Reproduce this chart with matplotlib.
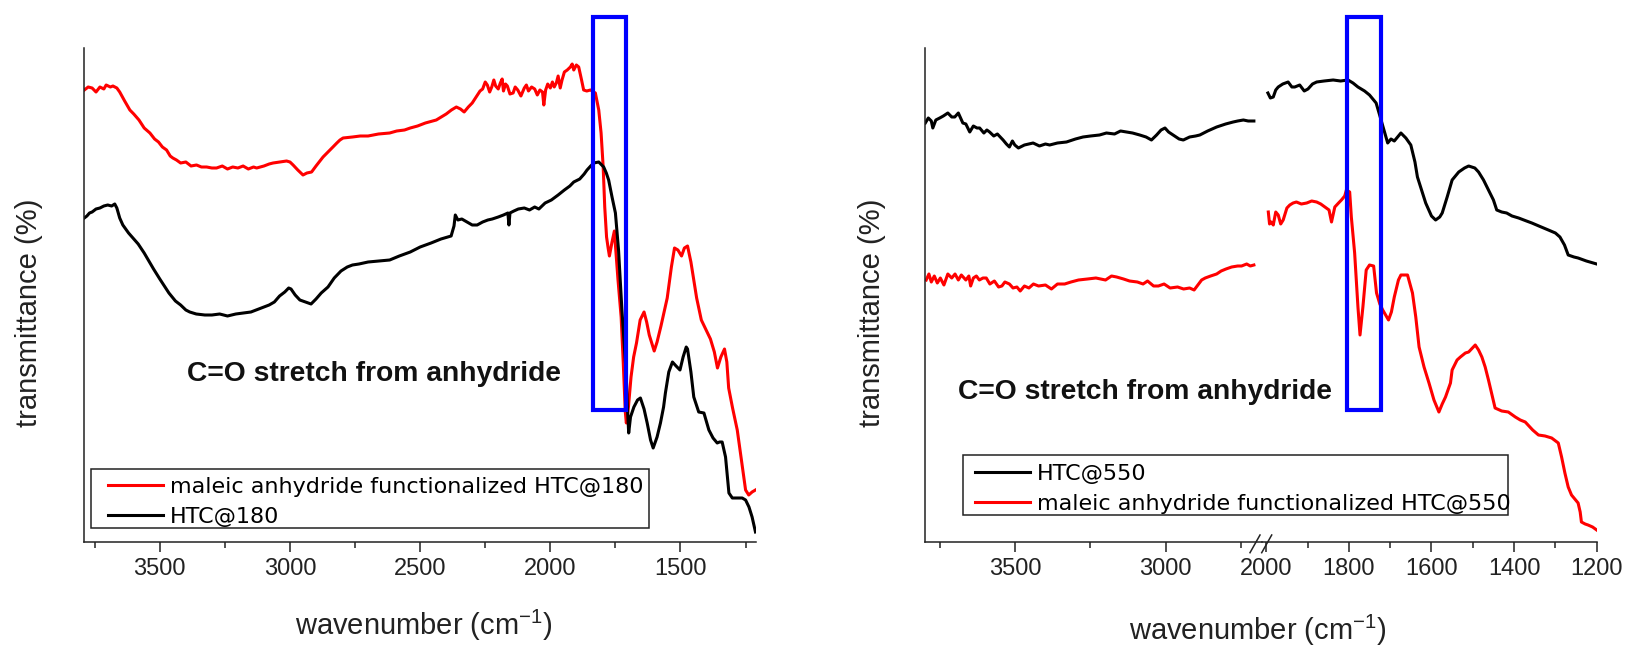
import matplotlib
matplotlib.use("Agg")
import matplotlib.pyplot as plt
from matplotlib.lines import Line2D
from matplotlib.patches import Rectangle

plt.rcParams['font.family'] = ['Liberation Sans', 'DejaVu Sans']
plt.rcParams['mathtext.default'] = 'regular'

# ---- data (wavenumber, transmittance in arbitrary units) ----
# left panel: HTC@180
wn_red180 = [3790, 3775, 3760, 3745, 3730, 3715, 3706, 3690, 3680, 3665, 3654, 3635, 3615, 3600,
             3580, 3560, 3538, 3520, 3505, 3490, 3474, 3460, 3450, 3436, 3420, 3400, 3380, 3359,
             3340, 3320, 3300, 3282, 3260, 3240, 3220, 3200, 3180, 3160, 3140, 3128, 3100, 3080,
             3065, 3040, 3013, 3000, 2988, 2970, 2950, 2935, 2917, 2900, 2873, 2850, 2835, 2820,
             2808, 2796, 2760, 2730, 2700, 2660, 2617, 2590, 2560, 2538, 2510, 2480, 2438, 2400,
             2380, 2361, 2345, 2331, 2315, 2300, 2280, 2270, 2260, 2250, 2242, 2233, 2225, 2217,
             2210, 2200, 2192, 2185, 2180, 2172, 2165, 2155, 2143, 2135, 2125, 2113, 2100, 2092,
             2084, 2072, 2060, 2050, 2040, 2030, 2025, 2018, 2010, 2000, 1992, 1985, 1977, 1970,
             1962, 1955, 1946, 1935, 1923, 1916, 1910, 1900, 1891, 1880, 1872, 1860, 1846, 1827,
             1814, 1805, 1797, 1791, 1784, 1778, 1773, 1763, 1754, 1740, 1728, 1720, 1712, 1708,
             1700, 1690, 1680, 1669, 1655, 1640, 1630, 1620, 1601, 1590, 1575, 1551, 1535, 1523,
             1510, 1496, 1485, 1473, 1460, 1438, 1420, 1400, 1385, 1370, 1358, 1345, 1331, 1322,
             1315, 1300, 1282, 1265, 1250, 1238, 1225, 1212]
t_red180 = [452, 455, 454, 450, 455, 453, 457, 455, 456, 454, 450, 441, 432, 428,
            422, 414, 409, 403, 400, 395, 392, 386, 384, 382, 379, 380, 376, 377,
            375, 375, 374, 374, 376, 373, 375, 374, 376, 373, 375, 374, 376, 378,
            379, 380, 381, 380, 377, 372, 367, 369, 370, 376, 385, 391, 395, 399,
            402, 404, 405, 406, 406, 408, 409, 411, 412, 414, 416, 419, 422, 428,
            432, 435, 433, 430, 435, 439, 447, 451, 453, 460, 457, 450, 455, 462,
            456, 453, 459, 463, 451, 458, 456, 448, 449, 455, 452, 446, 454, 457,
            451, 455, 453, 447, 452, 450, 437, 452, 458, 454, 460, 455, 459, 466,
            454, 462, 470, 472, 475, 478, 472, 477, 475, 462, 452, 451, 452, 449,
            432, 409, 375, 335, 305, 294, 286, 300, 311, 262, 225, 180, 130, 119,
            135, 165, 185, 199, 222, 230, 220, 207, 191, 200, 216, 244, 275, 294,
            292, 286, 294, 296, 280, 244, 222, 211, 203, 190, 174, 185, 193, 180,
            154, 134, 112, 80, 52, 47, 50, 52]

wn_blk180 = [3790, 3780, 3770, 3760, 3745, 3730, 3715, 3700, 3685, 3673, 3665, 3654, 3642, 3620,
             3600, 3583, 3560, 3540, 3524, 3500, 3480, 3465, 3440, 3420, 3400, 3385, 3360, 3327,
             3300, 3270, 3240, 3208, 3180, 3150, 3110, 3080, 3060, 3040, 3020, 3005, 2996, 2980,
             2962, 2940, 2919, 2900, 2880, 2854, 2830, 2804, 2780, 2760, 2735, 2700, 2660, 2617,
             2580, 2538, 2500, 2458, 2420, 2381, 2370, 2365, 2355, 2340, 2320, 2300, 2281, 2260,
             2240, 2223, 2200, 2180, 2163, 2159, 2155, 2140, 2123, 2100, 2080, 2060, 2044, 2020,
             1996, 1970, 1946, 1925, 1910, 1887, 1870, 1859, 1845, 1833, 1814, 1795, 1785, 1776,
             1763, 1750, 1738, 1725, 1709, 1703, 1699, 1692, 1679, 1665, 1654, 1640, 1628, 1615,
             1605, 1590, 1577, 1565, 1558, 1545, 1531, 1517, 1502, 1490, 1478, 1473, 1460, 1449,
             1430, 1410, 1391, 1375, 1359, 1350, 1340, 1327, 1314, 1301, 1280, 1263, 1250, 1237,
             1225, 1212]
t_blk180 = [324, 326, 329, 330, 333, 334, 336, 337, 336, 338, 334, 324, 317, 309,
            303, 298, 289, 280, 273, 263, 255, 249, 241, 237, 232, 230, 228, 227,
            227, 228, 226, 228, 229, 230, 234, 237, 240, 246, 250, 254, 253, 247,
            242, 240, 238, 243, 249, 255, 264, 271, 275, 277, 278, 280, 281, 282,
            286, 290, 295, 299, 303, 306, 316, 327, 322, 323, 320, 317, 317, 320,
            322, 323, 325, 327, 329, 317, 329, 331, 333, 334, 332, 335, 333, 339,
            342, 347, 352, 356, 360, 363, 368, 372, 376, 379, 380, 375, 369, 362,
            345, 329, 292, 232, 170, 130, 109, 125, 135, 142, 144, 133, 119, 102,
            94, 105, 119, 135, 149, 170, 180, 176, 172, 185, 195, 193, 170, 145,
            130, 129, 112, 104, 99, 100, 100, 85, 49, 44, 44, 44, 42, 35,
            25, 10]

# right panel: HTC@550, split at the axis break
wn_blk550_a = [3800, 3790, 3780, 3775, 3765, 3752, 3740, 3725, 3712, 3702, 3690, 3675, 3665, 3652,
               3640, 3628, 3619, 3605, 3595, 3586, 3572, 3560, 3541, 3530, 3520, 3510, 3502, 3490,
               3470, 3441, 3420, 3400, 3386, 3360, 3330, 3300, 3275, 3250, 3220, 3197, 3170, 3150,
               3130, 3110, 3086, 3065, 3047, 3030, 3015, 3002, 2990, 2975, 2955, 2941, 2920, 2900,
               2886, 2860, 2830, 2800, 2775, 2760, 2741, 2725, 2706]
t_blk550_a = [419, 424, 421, 414, 422, 424, 426, 429, 425, 425, 429, 419, 418, 410,
              416, 414, 414, 409, 412, 410, 406, 408, 402, 398, 395, 401, 397, 394,
              397, 399, 396, 398, 397, 399, 400, 403, 405, 406, 407, 409, 408, 411,
              410, 409, 407, 405, 402, 407, 412, 414, 410, 407, 403, 402, 405, 406,
              407, 411, 415, 418, 420, 421, 422, 421, 421]
wn_blk550_b = [1996, 1990, 1983, 1977, 1971, 1960, 1947, 1938, 1931, 1919, 1908, 1899, 1888, 1878,
               1860, 1838, 1820, 1802, 1790, 1778, 1762, 1750, 1734, 1722, 1706, 1698, 1690, 1674,
               1662, 1650, 1640, 1634, 1624, 1614, 1600, 1590, 1580, 1574, 1562, 1550, 1534, 1520,
               1510, 1495, 1486, 1474, 1462, 1450, 1442, 1430, 1418, 1405, 1389, 1370, 1357, 1340,
               1317, 1300, 1289, 1278, 1269, 1255, 1245, 1225, 1200]
t_blk550_b = [449, 444, 445, 452, 455, 458, 460, 455, 455, 457, 451, 453, 458, 460,
              461, 462, 461, 462, 459, 455, 451, 447, 439, 422, 399, 403, 401, 409,
              404, 397, 380, 365, 352, 339, 326, 322, 325, 329, 345, 362, 370, 374,
              376, 374, 370, 362, 352, 342, 332, 330, 329, 326, 324, 321, 319, 316,
              312, 309, 305, 297, 287, 285, 284, 281, 278]

wn_red550_a = [3797, 3788, 3780, 3770, 3760, 3750, 3738, 3725, 3712, 3701, 3690, 3680, 3665, 3655,
               3649, 3640, 3630, 3620, 3608, 3597, 3585, 3570, 3556, 3545, 3535, 3520, 3508, 3495,
               3484, 3470, 3455, 3440, 3423, 3400, 3380, 3360, 3336, 3315, 3290, 3260, 3232, 3200,
               3180, 3163, 3140, 3120, 3094, 3075, 3060, 3040, 3024, 3005, 2985, 2960, 2940, 2920,
               2905, 2895, 2880, 2868, 2850, 2830, 2815, 2799, 2780, 2760, 2747, 2730, 2718, 2706]
t_red550_a = [262, 268, 260, 266, 259, 264, 257, 268, 264, 268, 262, 267, 262, 266,
              256, 264, 266, 262, 264, 264, 258, 261, 255, 256, 260, 258, 254, 255,
              251, 256, 254, 258, 256, 257, 253, 258, 258, 260, 262, 263, 264, 262,
              266, 265, 263, 261, 260, 258, 261, 256, 256, 258, 254, 255, 253, 254,
              252, 256, 262, 264, 266, 268, 271, 273, 275, 276, 276, 278, 276, 277]
wn_red550_b = [1995, 1992, 1988, 1983, 1977, 1971, 1965, 1959, 1950, 1943, 1935, 1927, 1915, 1902,
               1890, 1878, 1868, 1858, 1848, 1842, 1834, 1825, 1818, 1810, 1806, 1798, 1794, 1786,
               1778, 1773, 1766, 1758, 1750, 1740, 1733, 1725, 1718, 1704, 1697, 1690, 1680, 1674,
               1658, 1646, 1638, 1630, 1618, 1606, 1594, 1582, 1574, 1566, 1554, 1550, 1538, 1530,
               1518, 1510, 1494, 1486, 1478, 1470, 1462, 1454, 1446, 1430, 1414, 1397, 1385, 1373,
               1355, 1341, 1325, 1309, 1293, 1285, 1277, 1269, 1261, 1253, 1245, 1240, 1237, 1228,
               1221, 1210, 1200]
t_red550_b = [330, 318, 320, 317, 330, 327, 318, 322, 334, 337, 339, 340, 338, 339,
              341, 340, 338, 335, 332, 320, 335, 339, 342, 346, 352, 350, 325, 289,
              235, 207, 235, 272, 277, 276, 249, 238, 232, 222, 230, 245, 262, 267,
              267, 249, 225, 195, 175, 159, 142, 130, 138, 145, 159, 172, 182, 185,
              189, 190, 197, 192, 185, 175, 162, 148, 134, 131, 130, 125, 122, 120,
              112, 107, 106, 104, 99, 85, 69, 55, 47, 43, 39, 30, 20, 18,
              17, 15, 12]

box180 = (1835, 1708)
box550 = (1804, 1722)
box_t = (132, 525)

W, H = 1632, 647
fig = plt.figure(figsize=(W / 100, H / 100), dpi=100)


def fx(px):
    return px / W


def fy(py):
    return 1 - py / H


def axes_at(left, right, top=47.7, bottom=542):
    return fig.add_axes([fx(left), fy(bottom), fx(right) - fx(left), fy(top) - fy(bottom)])


def style(ax, major, minor):
    ax.set_ylim(0, 494.3)
    ax.set_yticks([])
    ax.set_xticks(major)
    ax.set_xticks(minor, minor=True)
    for s in ['top', 'right']:
        ax.spines[s].set_visible(False)
    for s in ['left', 'bottom']:
        ax.spines[s].set_linewidth(1.1)
        ax.spines[s].set_color('#222222')
    ax.tick_params(axis='x', which='major', length=7.2, width=1.1, pad=4,
                   labelsize=17, colors='#222222')
    ax.tick_params(axis='x', which='minor', length=4, width=1.1, colors='#222222')


lw = 2.2

# ---- left panel ----
ax1 = axes_at(84.3, 756)
l_red180, = ax1.plot(wn_red180, t_red180, color='#ff0000', lw=lw)
l_blk180, = ax1.plot(wn_blk180, t_blk180, color='#000000', lw=lw)
ax1.set_xlim(3790, 1210)
style(ax1, [3500, 3000, 2500, 2000, 1500], [3750, 3250, 2750, 2250, 1750, 1250])
ax1.add_patch(Rectangle((box180[0], box_t[0]), box180[1] - box180[0], box_t[1] - box_t[0],
                        fill=False, ec='#0000ff', lw=3, clip_on=False, zorder=5))

# ---- right panel (broken x axis) ----
ax2a = axes_at(925.3, 1261.7)
ax2a.plot(wn_blk550_a, t_blk550_a, color='#000000', lw=lw)
ax2a.plot(wn_red550_a, t_red550_a, color='#ff0000', lw=lw)
ax2a.set_xlim(3800, 2680)
style(ax2a, [3500, 3000], [3750, 3250, 2750])

ax2b = axes_at(1261.7, 1596.7)
l_blk550, = ax2b.plot(wn_blk550_b, t_blk550_b, color='#000000', lw=lw)
l_red550, = ax2b.plot(wn_red550_b, t_red550_b, color='#ff0000', lw=lw)
ax2b.set_xlim(2011, 1200)
style(ax2b, [2000, 1800, 1600, 1400, 1200], [1900, 1700, 1500, 1300])
ax2b.spines['left'].set_visible(False)
ax2b.patch.set_visible(False)
ax2b.add_patch(Rectangle((box550[0], box_t[0]), box550[1] - box550[0], box_t[1] - box_t[0],
                         fill=False, ec='#0000ff', lw=3, clip_on=False, zorder=5))

# break marks
for dx in (0, 11.7):
    fig.add_artist(Line2D([fx(1250 + dx), fx(1260 + dx)], [fy(552.7), fy(535)],
                          transform=fig.transFigure, color='#222222', lw=1.1))

# ---- labels ----
fig.text(fx(424), fy(625), 'wavenumber (cm$^{-1}$)', ha='center', va='center',
         fontsize=21, color='#222222')
fig.text(fx(1258), fy(630), 'wavenumber (cm$^{-1}$)', ha='center', va='center',
         fontsize=21, color='#222222')
for xc in (29, 872):
    fig.text(fx(xc), fy(313), 'transmittance (%)', ha='center', va='center',
             rotation=90, fontsize=21, color='#222222')

fig.text(fx(187), fy(374), 'C=O stretch from anhydride', fontweight='bold',
         fontsize=20.3, va='center', color='#111111')
fig.text(fx(958), fy(392), 'C=O stretch from anhydride', fontweight='bold',
         fontsize=20.3, va='center', color='#111111')

# ---- legends ----
leg_kw = dict(loc='upper left', frameon=False, borderpad=0, handlelength=2.48,
              handletextpad=0.32, labelspacing=0.45,
              prop={'family': 'DejaVu Sans', 'size': 16})
fig.legend([l_red180, l_blk180],
           ['maleic anhydride functionalized HTC@180', 'HTC@180'],
           bbox_to_anchor=(fx(96.5), fy(466)), **leg_kw)
fig.legend([l_blk550, l_red550],
           ['HTC@550', 'maleic anhydride functionalized HTC@550'],
           bbox_to_anchor=(fx(963.5), fy(452.5)), **leg_kw)
for x0, x1, y0, y1 in ((91, 649.3, 469, 528), (962.7, 1508.3, 455.3, 515)):
    fig.add_artist(Rectangle((fx(x0), fy(y1)), fx(x1) - fx(x0), fy(y0) - fy(y1),
                             transform=fig.transFigure, fill=False, ec='#222222', lw=1.1))

fig.savefig('out.png', dpi=100)
